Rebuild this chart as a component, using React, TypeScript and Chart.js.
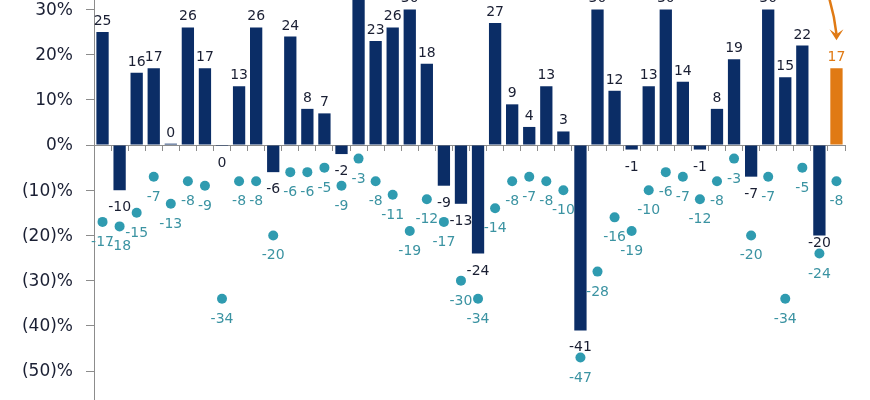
import React, { useEffect, useRef } from 'react';
import { Chart, registerables } from 'chart.js';

Chart.register(...registerables);

const categories = [
  '1980', '1981', '1982', '1983', '1984', '1985', '1986', '1987', '1988', '1989',
  '1990', '1991', '1992', '1993', '1994', '1995', '1996', '1997', '1998', '1999',
  '2000', '2001', '2002', '2003', '2004', '2005', '2006', '2007', '2008', '2009',
  '2010', '2011', '2012', '2013', '2014', '2015', '2016', '2017', '2018', '2019',
  '2020', '2021', '2022', '2023',
];

const annualReturns = [
  25, -10, 16, 17, 0.3, 26, 17, -0.2, 13, 26,
  -6, 24, 8, 7, -2, 34, 23, 26, 30, 18,
  -9, -13, -24, 27, 9, 4, 13, 3, -41, 30,
  12, -1, 13, 30, 14, -1, 8, 19, -7, 30,
  15, 22, -20, 17,
];

const intraYearDeclines = [
  -17, -18, -15, -7, -13, -8, -9, -34, -8, -8,
  -20, -6, -6, -5, -9, -3, -8, -11, -19, -12,
  -17, -30, -34, -14, -8, -7, -8, -10, -47, -28,
  -16, -19, -10, -6, -7, -12, -8, -3, -20, -7,
  -34, -5, -24, -8,
];

const yTickValues = [30, 20, 10, 0, -10, -20, -30, -40, -50];

const NAVY = '#0b2d66';
const TEAL = '#2f9bb0';
const TEAL_TEXT = '#3b93a2';
const ORANGE = '#e07a14';
const DARK_TEXT = '#1a1f33';
const AXIS = '#8c8c8c';
const FONT = '"DejaVu Sans", Verdana, sans-serif';

export default function App() {
  const canvasRef = useRef<HTMLCanvasElement | null>(null);

  useEffect(() => {
    const canvas = canvasRef.current;
    if (!canvas) return;
    const lastIndex = annualReturns.length - 1;

    const valueLabels = {
      id: 'valueLabels',
      afterDatasetsDraw(chart: any) {
        const ctx = chart.ctx;
        ctx.save();
        ctx.font = `14px ${FONT}`;
        ctx.textAlign = 'center';
        ctx.textBaseline = 'alphabetic';
        const barMeta = chart.getDatasetMeta(0);
        const dotMeta = chart.getDatasetMeta(1);
        barMeta.data.forEach((el: any, i: number) => {
          const v = annualReturns[i];
          const txt = String(Math.round(v));
          ctx.fillStyle = i === lastIndex ? ORANGE : DARK_TEXT;
          let y: number;
          if (v >= 0) {
            y = el.y - 7;
          } else {
            const dot = dotMeta.data[i];
            y = Math.min(el.y + 21, dot ? dot.y - 7 : Infinity);
          }
          ctx.fillText(txt, el.x, y);
        });
        ctx.fillStyle = TEAL_TEXT;
        dotMeta.data.forEach((el: any, i: number) => {
          const v = intraYearDeclines[i];
          ctx.fillText(String(Math.round(v)), el.x, el.y + 24);
        });
        ctx.restore();
      },
    };

    const arrowPlugin = {
      id: 'ytdArrow',
      afterDraw(chart: any) {
        const ctx = chart.ctx;
        const xScale = chart.scales.x;
        const yScale = chart.scales.y;
        const x = xScale.getPixelForValue(lastIndex);
        const tip = yScale.getPixelForValue(annualReturns[lastIndex]) - 28;
        ctx.save();
        ctx.strokeStyle = ORANGE;
        ctx.fillStyle = ORANGE;
        ctx.lineWidth = 2.5;
        ctx.beginPath();
        ctx.moveTo(x - 8, -4);
        ctx.quadraticCurveTo(x - 2, tip - 25, x, tip - 6);
        ctx.stroke();
        ctx.beginPath();
        ctx.moveTo(x - 7, tip - 11);
        ctx.lineTo(x, tip - 6);
        ctx.lineTo(x + 7, tip - 11);
        ctx.lineTo(x, tip);
        ctx.closePath();
        ctx.fill();
        ctx.restore();
      },
    };

    const chart = new Chart(canvas, {
      type: 'bar',
      data: {
        labels: categories,
        datasets: [
          {
            type: 'bar',
            label: 'Annual return',
            data: annualReturns,
            backgroundColor: annualReturns.map((_, i) => (i === lastIndex ? ORANGE : NAVY)),
            barPercentage: 0.72,
            categoryPercentage: 1,
            order: 2,
          },
          {
            type: 'line',
            label: 'Intra-year decline',
            data: intraYearDeclines,
            showLine: false,
            pointRadius: 5,
            pointHoverRadius: 5,
            pointBorderWidth: 0,
            pointBackgroundColor: TEAL,
            borderColor: TEAL,
            backgroundColor: TEAL,
            clip: false,
            order: 1,
          } as any,
        ],
      },
      options: {
        responsive: false,
        animation: false,
        layout: { autoPadding: false, padding: { left: 0, right: 25, top: 0, bottom: 0 } } as any,
        plugins: {
          legend: { display: false },
          tooltip: { enabled: false },
        },
        scales: {
          x: {
            type: 'category',
            position: { y: 0 } as any,
            offset: true,
            afterFit(scale: any) {
              scale.height = 0;
              scale.paddingLeft = 0;
              scale.paddingRight = 0;
            },
            grid: {
              display: true,
              offset: true,
              drawOnChartArea: false,
              drawTicks: true,
              tickLength: 5,
              color: AXIS,
            },
            border: { display: true, color: AXIS, width: 1 },
            ticks: { display: false },
          },
          y: {
            min: -56.4,
            max: 32.08,
            afterBuildTicks(scale: any) {
              scale.ticks = yTickValues.map((v) => ({ value: v }));
            },
            afterFit(scale: any) {
              scale.width = 94;
              scale.paddingTop = 0;
              scale.paddingBottom = 0;
            },
            grid: {
              display: true,
              drawOnChartArea: false,
              drawTicks: true,
              tickLength: 8,
              color: AXIS,
            },
            border: { display: true, color: AXIS, width: 1 },
            ticks: {
              padding: 13,
              labelOffset: 1,
              color: DARK_TEXT,
              font: { family: FONT, size: 17 },
              callback: (value: any) => {
                const v = Number(value);
                return v < 0 ? `(${-v})%` : `${v}%`;
              },
            },
          },
        },
      },
      plugins: [valueLabels, arrowPlugin],
    });

    return () => {
      chart.destroy();
    };
  }, []);

  return (
    <div style={{ position: 'absolute', left: 0, top: 0, width: 870, height: 400, overflow: 'hidden', background: '#fff' }}>
      <canvas ref={canvasRef} width={870} height={400} style={{ width: 870, height: 400, display: 'block' }} />
    </div>
  );
}
